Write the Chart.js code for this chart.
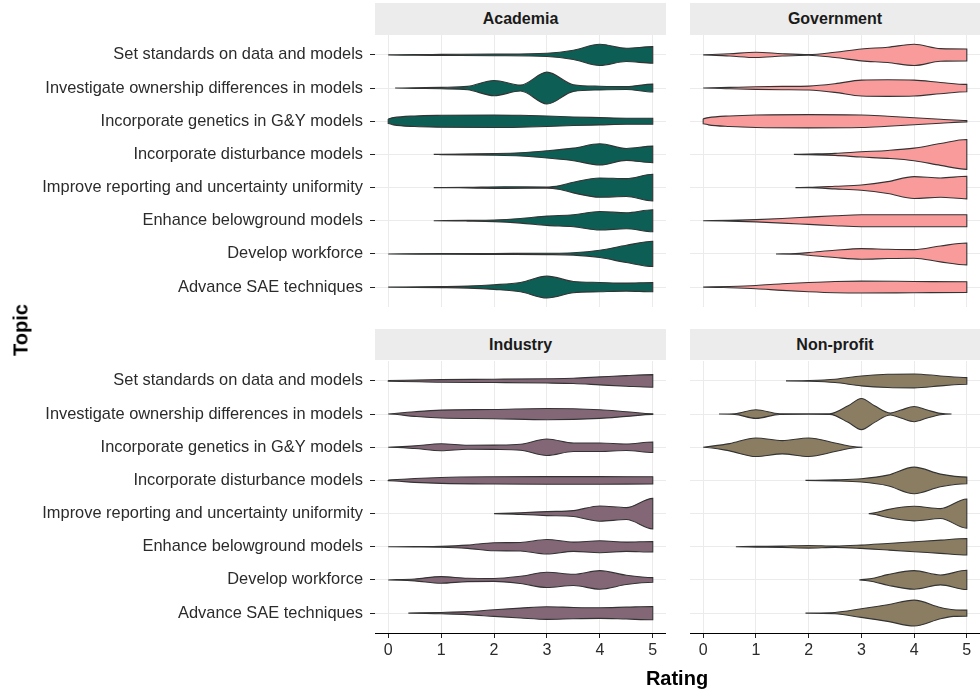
<!DOCTYPE html>
<html>
<head>
<meta charset="utf-8">
<script src="https://cdn.jsdelivr.net/npm/chart.js@4.4.1/dist/chart.umd.min.js"></script>
<style>
  body { margin: 0; background: #fff; font-family: "Liberation Sans", Arial, sans-serif; }
  #page { position: relative; width: 980px; height: 689px; overflow: hidden; }
  .strip {
    position: absolute; background: #ececec; color: #1a1a1a;
    font-weight: bold; font-size: 16px;
    display: flex; align-items: center; justify-content: center;
  }
  .panel { position: absolute; }
  .axis-title {
    position: absolute; font-weight: bold; font-size: 20px; color: #000;
    white-space: nowrap; transform: translate(-50%, -50%);
  }
</style>
</head>
<body>
<div id="page">
  <div class="strip" style="left:375px; top:3px; width:291px; height:32px;">Academia</div>
  <div class="strip" style="left:690px; top:3px; width:290px; height:32px;">Government</div>
  <div class="strip" style="left:375px; top:329px; width:291px; height:31px;">Industry</div>
  <div class="strip" style="left:690px; top:329px; width:290px; height:31px;">Non-profit</div>

  <canvas class="panel" id="academiaChart" width="666" height="272" style="left:0; top:35px;"></canvas>
  <canvas class="panel" id="governmentChart" width="290" height="272" style="left:690px; top:35px;"></canvas>
  <canvas class="panel" id="industryChart" width="666" height="312" style="left:0; top:361px;"></canvas>
  <canvas class="panel" id="nonprofitChart" width="290" height="312" style="left:690px; top:361px;"></canvas>

  <div class="axis-title" style="left:21px; top:330px; transform: translate(-50%, -50%) rotate(-90deg);">Topic</div>
  <div class="axis-title" style="left:677px; top:678px;">Rating</div>
</div>

<script>
// ── Data ────────────────────────────────────────────────────────────
const topics = [
    'Set standards on data and models',
    'Investigate ownership differences in models',
    'Incorporate genetics in G&Y models',
    'Incorporate disturbance models',
    'Improve reporting and uncertainty uniformity',
    'Enhance belowground models',
    'Develop workforce',
    'Advance SAE techniques'
];
const ratingTicks = [0, 1, 2, 3, 4, 5];

// each violin: [rating, half width in rows] from its lowest rating to its highest
const academia = [
    [[0, 0], [0.5, 0.01], [1, 0.015], [2, 0.025], [3, 0.05], [3.5, 0.14], [4, 0.32], [4.5, 0.2], [5, 0.25]],
    [[0.13, 0], [0.5, 0.01], [1, 0.02], [1.5, 0.05], [2, 0.23], [2.5, 0.09], [3, 0.48], [3.5, 0.1], [4, 0.055], [4.5, 0.045], [5, 0.12]],
    [[0, 0.07], [0.1, 0.11], [0.5, 0.16], [1, 0.18], [2, 0.19], [2.5, 0.18], [3, 0.16], [3.5, 0.13], [4, 0.11], [4.5, 0.09], [5, 0.09]],
    [[0.86, 0], [1, 0.005], [2, 0.025], [2.5, 0.05], [3, 0.11], [3.5, 0.19], [4, 0.32], [4.5, 0.18], [5, 0.25]],
    [[0.86, 0], [1.5, 0.01], [2.2, 0.025], [3, 0.015], [3.25, 0.06], [3.5, 0.16], [4, 0.29], [4.5, 0.27], [5, 0.4]],
    [[0.86, 0], [1.5, 0.01], [2, 0.025], [2.5, 0.07], [3, 0.14], [3.5, 0.18], [4, 0.28], [4.5, 0.24], [5, 0.33]],
    [[0, 0], [1, 0.01], [2, 0.015], [3, 0.02], [3.5, 0.035], [4, 0.11], [4.5, 0.26], [5, 0.38]],
    [[0, 0], [1, 0.015], [1.5, 0.03], [2, 0.07], [2.5, 0.14], [3, 0.33], [3.5, 0.17], [4, 0.14], [4.5, 0.12], [5, 0.14]]
];
const government = [
    [[0, 0], [0.5, 0.035], [1, 0.08], [1.5, 0.035], [2, 0.01], [2.5, 0.08], [3, 0.18], [3.5, 0.23], [4, 0.32], [4.5, 0.19], [5, 0.18]],
    [[0, 0], [0.5, 0.02], [1, 0.04], [1.5, 0.05], [2, 0.06], [2.5, 0.13], [3, 0.24], [3.5, 0.25], [4, 0.24], [4.5, 0.17], [5, 0.11]],
    [[0, 0.075], [0.1, 0.11], [0.5, 0.16], [1, 0.19], [2, 0.2], [3, 0.19], [3.5, 0.15], [4, 0.105], [4.5, 0.06], [5, 0.02]],
    [[1.72, 0], [2, 0.01], [2.5, 0.03], [3, 0.08], [3.5, 0.12], [4, 0.19], [4.5, 0.33], [5, 0.45]],
    [[1.75, 0], [2, 0.005], [2.5, 0.04], [3, 0.08], [3.5, 0.18], [4, 0.33], [4.5, 0.29], [5, 0.34]],
    [[0, 0], [0.5, 0.01], [1, 0.035], [1.5, 0.07], [2, 0.11], [2.5, 0.15], [3, 0.18], [4, 0.18], [5, 0.18]],
    [[1.38, 0], [1.75, 0.01], [2, 0.04], [2.5, 0.11], [3, 0.16], [3.5, 0.14], [4, 0.13], [4.5, 0.24], [5, 0.33]],
    [[0, 0], [0.5, 0.02], [1, 0.05], [1.5, 0.1], [2, 0.14], [2.5, 0.17], [3, 0.18], [4, 0.17], [5, 0.16]]
];
const industry = [
    [[0, 0.01], [1, 0.04], [2, 0.05], [3, 0.065], [3.5, 0.08], [4, 0.12], [4.5, 0.16], [5, 0.19]],
    [[0, 0], [0.5, 0.07], [1, 0.12], [2, 0.14], [3, 0.17], [4, 0.13], [4.5, 0.07], [5, 0.01]],
    [[0, 0], [0.5, 0.04], [1, 0.105], [1.5, 0.06], [2, 0.065], [2.5, 0.09], [3, 0.25], [3.5, 0.13], [4, 0.13], [4.5, 0.1], [5, 0.16]],
    [[0, 0.01], [0.5, 0.06], [1, 0.09], [2, 0.11], [3, 0.115], [4, 0.115], [5, 0.11]],
    [[2, 0], [2.5, 0.025], [3, 0.06], [3.5, 0.09], [4, 0.23], [4.5, 0.18], [5, 0.46]],
    [[0, 0], [0.5, 0.005], [1, 0.015], [1.5, 0.05], [2, 0.12], [2.5, 0.13], [3, 0.22], [3.5, 0.14], [4, 0.18], [4.5, 0.14], [5, 0.16]],
    [[0, 0], [0.5, 0.03], [1, 0.1], [1.5, 0.05], [2, 0.045], [2.5, 0.11], [3, 0.23], [3.5, 0.17], [4, 0.28], [4.5, 0.14], [5, 0.07]],
    [[0.38, 0], [1, 0.02], [1.5, 0.045], [2, 0.1], [2.5, 0.15], [3, 0.19], [3.5, 0.17], [4, 0.16], [4.5, 0.18], [5, 0.2]]
];
const nonprofit = [
    [[1.57, 0], [2, 0.01], [2.5, 0.05], [3, 0.15], [3.5, 0.2], [4, 0.21], [4.5, 0.15], [5, 0.1]],
    [[0.3, 0], [0.6, 0.01], [1, 0.13], [1.45, 0.01], [2, 0.005], [2.4, 0.01], [2.75, 0.25], [3, 0.47], [3.25, 0.25], [3.55, 0.03], [3.75, 0.12], [4, 0.23], [4.25, 0.12], [4.5, 0.02], [4.71, 0]],
    [[0, 0], [0.5, 0.11], [1, 0.28], [1.5, 0.2], [2, 0.28], [2.5, 0.13], [2.8, 0.03], [3.02, 0]],
    [[1.94, 0], [2.5, 0.015], [3, 0.05], [3.5, 0.16], [4, 0.4], [4.5, 0.19], [5, 0.1]],
    [[3.14, 0], [3.3, 0.04], [3.5, 0.12], [4, 0.22], [4.5, 0.15], [5, 0.44]],
    [[0.62, 0], [1, 0.01], [1.5, 0.02], [2, 0.04], [2.5, 0.02], [3, 0.05], [3.5, 0.1], [4, 0.15], [4.5, 0.2], [5, 0.25]],
    [[2.96, 0], [3.25, 0.06], [3.5, 0.16], [4, 0.28], [4.5, 0.15], [5, 0.29]],
    [[1.94, 0], [2.5, 0.02], [3, 0.13], [3.5, 0.25], [4, 0.39], [4.5, 0.17], [4.75, 0.1], [5, 0.09]]
];

// ── Styling ─────────────────────────────────────────────────────────
const FONT = "'Liberation Sans', Arial, sans-serif";
const TEXT = '#2b2b2b';
const GRID = '#ebebeb';
const OUTLINE = '#333333';

// closed outline: upper edge left→right, lower edge right→left
function violinDataset(profile, row, color) {
    const upper = profile.map(([x, w]) => ({ x, y: row - w }));
    const lower = profile.map(([x, w]) => ({ x, y: row + w })).reverse();
    return {
        data: upper.concat(lower, [upper[0]]),
        backgroundColor: color,
        borderColor: OUTLINE,
        borderWidth: 1.1,
        fill: 'shape',
        pointRadius: 0,
        cubicInterpolationMode: 'monotone'
    };
}

// axes keep fixed sizes, no extra label padding, so panels line up
function fixSize(s, w, h) {
    if (w !== null) s.width = w;
    if (h !== null) s.height = h;
    s.paddingTop = 0; s.paddingBottom = 0;
    s.paddingLeft = 0; s.paddingRight = 0;
}

function makePanel(id, violins, color, showY, showX) {
    new Chart(document.getElementById(id), {
        type: 'line',
        data: { datasets: violins.map((p, i) => violinDataset(p, i + 1, color)) },
        options: {
            responsive: false,
            animation: false,
            events: [],
            layout: { padding: 0 },
            plugins: { legend: { display: false }, tooltip: { enabled: false } },
            scales: {
                x: {
                    type: 'linear', min: -0.25, max: 5.25,
                    afterBuildTicks: s => { s.ticks = ratingTicks.map(v => ({ value: v })); },
                    afterFit: s => fixSize(s, null, showX ? 40 : 0),
                    grid: { color: GRID, lineWidth: 1, drawTicks: showX, tickLength: 5, tickColor: '#222', tickWidth: 1 },
                    border: { display: showX, color: '#000', width: 1 },
                    ticks: {
                        display: showX, padding: 3, color: TEXT, autoSkip: false, maxRotation: 0,
                        font: { family: FONT, size: 16 }
                    }
                },
                y: {
                    type: 'linear', min: 0.4, max: 8.6, reverse: true,
                    afterBuildTicks: s => { s.ticks = topics.map((t, i) => ({ value: i + 1 })); },
                    afterFit: s => fixSize(s, showY ? 375 : 0, null),
                    grid: { color: GRID, lineWidth: 1, drawTicks: showY, tickLength: 5, tickColor: '#222', tickWidth: 1 },
                    border: { display: false },
                    ticks: {
                        display: showY, padding: 7, color: TEXT, autoSkip: false,
                        font: { family: FONT, size: 16.4 },
                        callback: v => topics[Math.round(v) - 1]
                    }
                }
            }
        }
    });
}

makePanel('academiaChart', academia, '#0d5f55', true, false);
makePanel('governmentChart', government, '#f99b9b', false, false);
makePanel('industryChart', industry, '#846776', true, true);
makePanel('nonprofitChart', nonprofit, '#8b7d62', false, true);
</script>
</body>
</html>
